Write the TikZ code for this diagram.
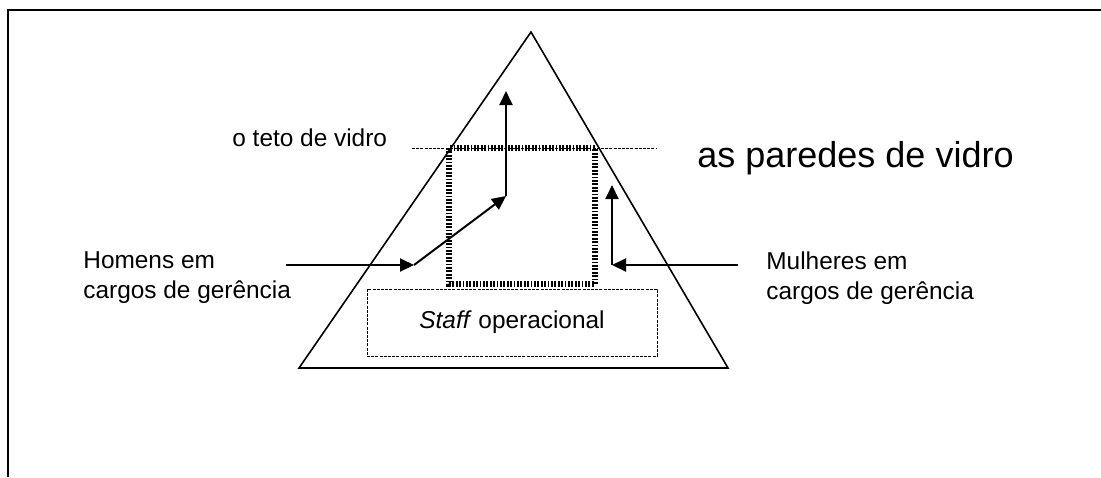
\documentclass[tikz,border=0pt]{standalone}
\usepackage{fontspec}
\setmainfont{Liberation Sans}
\usetikzlibrary{arrows.meta}

\begin{document}
\begin{tikzpicture}[
    x=0.5pt, y=-0.5pt,
    frameline/.style={line width=1pt, black},
    triline/.style={line width=0.8pt, black},
    glassline/.style={line width=3.2pt, black, dash pattern=on 0.9pt off 0.8pt},
    ceilline/.style={line width=0.5pt, black, dash pattern=on 1.5pt off 0.6pt},
    flowarrow/.style={line width=1pt, -{Triangle[length=7pt, width=6.5pt]}},
    lbl/.style={font=\fontsize{12.2}{15}\selectfont, inner sep=0pt, align=left},
    biglbl/.style={font=\fontsize{18}{21}\selectfont, inner sep=0pt},
    staffbox/.style={draw, line width=0.5pt, dash pattern=on 1.5pt off 0.6pt,
                     minimum width=145pt, minimum height=33.5pt, inner sep=0pt,
                     font=\fontsize{12.2}{15}\selectfont},
]

\useasboundingbox (0,0) rectangle (1101,477);

% ================================================================
% FRAME (top and left edges only)
% ================================================================
\draw[frameline] (8,477) -- (8,10) -- (1101,10);

% ================================================================
% PYRAMID
% ================================================================
\coordinate (apex)  at (531,32);
\coordinate (baseL) at (299,368);
\coordinate (baseR) at (728,368);

\draw[triline] (apex) -- (baseL) -- (baseR) -- cycle;

% ================================================================
% GLASS CEILING AND GLASS WALLS
% ================================================================
\coordinate (ceilL) at (412,148);
\coordinate (ceilR) at (656,148);
\draw[ceilline] (ceilL) -- (ceilR);

\coordinate (wallNW) at (449,148);
\coordinate (wallSE) at (595,284);
\draw[glassline] (wallNW) rectangle (wallSE);

% ================================================================
% OPERATIONAL STAFF
% ================================================================
\node[staffbox] (staff) at (512,322.5) {\textit{Staff} operacional};

% ================================================================
% LABELS (base anchor = last line)
% ================================================================
\node[lbl, anchor=base west] (teto) at (232,146) {o teto de vidro};
\node[biglbl, anchor=base west] (paredes) at (697,167) {as paredes de vidro};
\node[lbl, anchor=base west] (homens) at (83,298)
  {Homens em\\cargos de gerência};
\node[lbl, anchor=base west] (mulheres) at (766,299)
  {Mulheres em\\cargos de gerência};

% ================================================================
% PATH OF MEN: across the wall, then through the ceiling
% ================================================================
\coordinate (menstart) at (286,265);
\coordinate (menwall)  at (414,265);
\coordinate (menbend)  at (506,196);
\coordinate (mentop)   at (506,91);

\draw[flowarrow] (menstart) -- (menwall);
\draw[flowarrow] (menwall) -- (menbend);
\draw[flowarrow] (menbend) -- (mentop);

% ================================================================
% PATH OF WOMEN: stopped inside the walls
% ================================================================
\coordinate (womstart) at (738,265);
\coordinate (womwall)  at (612,265);
\coordinate (womtop)   at (612,185);

\draw[flowarrow] (womstart) -- (womwall);
\draw[flowarrow] (womwall) -- (womtop);

\end{tikzpicture}
\end{document}
